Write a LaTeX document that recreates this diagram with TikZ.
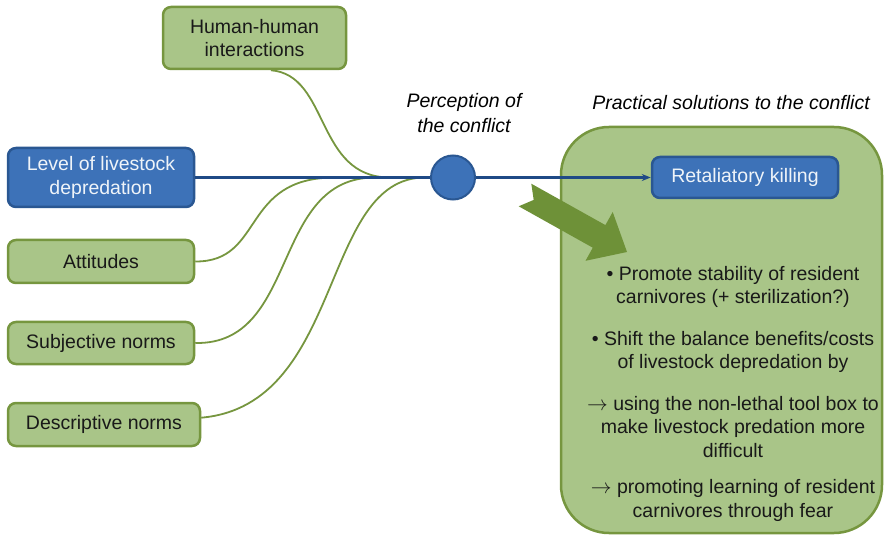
\documentclass[tikz,border=0pt]{standalone}
\usepackage{fontspec}
\setmainfont{Liberation Sans}
\usetikzlibrary{positioning}
\usetikzlibrary{arrows.meta}

\definecolor{leaf}{HTML}{A9C588}
\definecolor{leafline}{HTML}{76963F}
\definecolor{moss}{HTML}{6E9138}
\definecolor{sky}{HTML}{3D72B8}
\definecolor{skyline}{HTML}{2A5792}
\definecolor{navy}{HTML}{1F4A86}

\newcommand{\smallarr}{$\rightarrow$}

\tikzset{
    txt/.style={font=\fontsize{19.5}{23.5}\selectfont},
    greenbox/.style={txt, rectangle, rounded corners=8pt, draw=leafline, line width=2.5pt, fill=leaf, text=black!90, align=center, inner sep=0pt},
    bluebox/.style={txt, rectangle, rounded corners=8pt, draw=skyline, line width=2.5pt, fill=sky, text=white!92!sky, align=center, inner sep=0pt},
    links/.style={draw=leafline, line width=1.8pt},
    mainline/.style={draw=navy, line width=2.4pt}
}

\begin{document}
\begin{tikzpicture}[x=1pt, y=-1pt]
    \useasboundingbox (0,0) rectangle (887,540);

    \node [rectangle, rounded corners=48pt, minimum width=321pt, minimum height=406pt, draw=leafline, line width=2.5pt, fill=leaf] (solbox) at (721.5,330) {};

    \node [greenbox, minimum width=183pt, minimum height=62pt] (human) at (254.5,38) {Human-human\\interactions};
    \node [bluebox, minimum width=186pt, minimum height=59pt] (level) at (101,177.5) {Level of livestock\\depredation};
    \node [greenbox, minimum width=186pt, minimum height=43pt] (attitudes) at (101,261.5) {Attitudes};
    \node [greenbox, minimum width=186pt, minimum height=42pt] (subjective) at (101,343) {Subjective norms};
    \node [greenbox, minimum width=192pt, minimum height=43pt] (descriptive) at (104,424.5) {Descriptive norms};

    \node [circle, minimum size=44pt, inner sep=0pt, draw=skyline, line width=2pt, fill=sky] (perception) at (453,177.5) {};
    \node [bluebox, minimum width=186pt, minimum height=41pt] (killing) at (745,177.5) {Retaliatory killing};

    \node [txt, font=\fontsize{19.5}{24.5}\selectfont\itshape, align=center] (perctitle) at (464,113) {Perception of\\the conflict};
    \node [txt, font=\fontsize{19.5}{23.5}\selectfont\itshape] (soltitle) at (731,103) {Practical solutions to the conflict};

    \coordinate (jhuman) at (390,177.5);
    \coordinate (jatt) at (335,177.5);
    \coordinate (jsubj) at (375,177.5);
    \coordinate (jdesc) at (425,177.5);

    \draw [links] (human.-63) .. controls (330,75) and (315,177.5) .. (jhuman);
    \draw [links] (attitudes.east) .. controls (265,262) and (240,177.5) .. (jatt);
    \draw [links] (subjective.east) .. controls (300,345) and (270,177.5) .. (jsubj);
    \draw [links] (descriptive.4) .. controls (345,405) and (320,177.5) .. (jdesc);

    \draw [mainline] (level) -- (perception);
    \draw [mainline, -{Stealth[length=9pt, width=7pt]}] (perception) -- (killing);

    \fill [moss] (531.3,183.7) -- (605.4,225.1) -- (612.7,212.0) -- (627.0,252.0) -- (585.5,260.8) -- (592.8,247.7) -- (518.7,206.3) -- (533.7,199.9) -- cycle;

    \node [txt, align=center, text=black!90] (measures) at (733,393.5) {%
        • Promote stability of resident\\
        carnivores (+ sterilization?)\\[18pt]
        • Shift the balance benefits/costs\\
        of livestock depredation by\\[18pt]
        \smallarr{} using the non-lethal tool box to\\
        make livestock predation more\\
        difficult\\[13pt]
        \smallarr{} promoting learning of resident\\
        carnivores through fear};
\end{tikzpicture}
\end{document}
